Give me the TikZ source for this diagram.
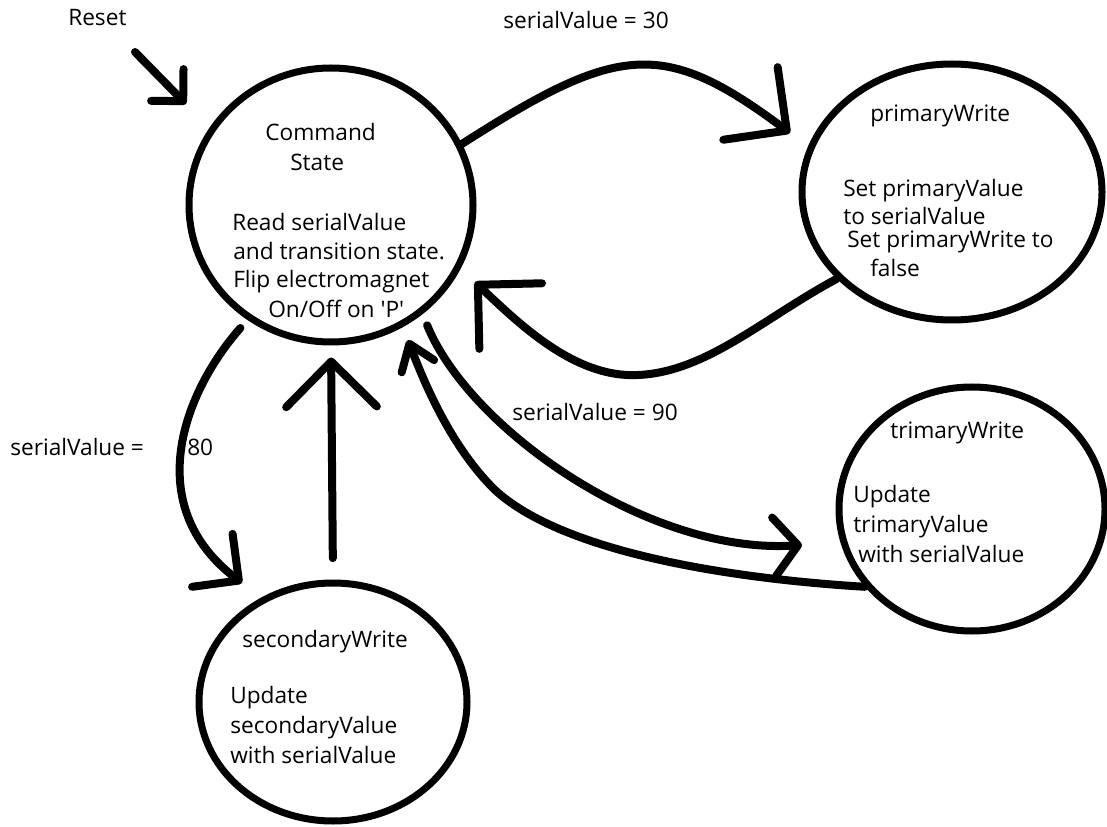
\documentclass[tikz,border=0pt]{standalone}
\usepackage{fontspec}
\setmainfont{Open Sans}
\usetikzlibrary{arrows.meta,shapes.geometric}
\begin{document}
\begin{tikzpicture}[x=0.75pt,y=-0.75pt,
  state/.style={draw, ellipse, line width=5.25pt, inner sep=0pt},
  lbl/.style={anchor=base west, inner sep=0pt, font=\fontsize{17pt}{20pt}\selectfont},
  conn/.style={line width=6pt, line cap=round, line join=round},
  tipL/.style={conn, -{Straight Barb[length=34pt,width=68pt,round]}},
  tipM/.style={conn, -{Straight Barb[length=25pt,width=50pt,round]}},
  tipN/.style={conn, -{Straight Barb[length=18pt,width=44pt,round]}},
  tipT/.style={conn, -{Straight Barb[length=18pt,width=26pt,round]}},
  tipR/.style={conn, -{Straight Barb[length=17pt,width=34pt,round]}}
]
\useasboundingbox (0,0) rectangle (1107,827);

% states
\node[state, minimum width=213pt, minimum height=205.5pt] (cmd) at (331,205) {};
\node[state, minimum width=225pt, minimum height=192pt] (pw) at (952,192) {};
\node[state, minimum width=199.5pt, minimum height=183pt] (tri) at (972,509) {};
\node[state, minimum width=201pt, minimum height=178.5pt] (sec) at (333,702) {};

% free ends
\coordinate (rsS) at (135,52);
\coordinate (rsT) at (186,104);
\coordinate (a30) at (790,133);
\coordinate (apw) at (475,282);
\coordinate (a90) at (802,545);
\coordinate (atr) at (408,340);
\coordinate (a80) at (242,583);

% connectors
\draw[tipR] (rsS) -- (rsT);
\draw[tipL] (cmd.25) .. controls (618,44) and (663,38) .. (a30);
\draw[tipL] (pw.217) .. controls (760,320) and (700,378) .. (627,375)
  .. controls (570,372) and (520,325) .. (apw);
\draw[tipN, shorten <=9pt] (cmd.-50) .. controls (470,430) and (650,555) .. (a90);
\draw[tipT] (tri.216) .. controls (720,578) and (560,550) .. (495,490)
  .. controls (452,448) and (425,385) .. (atr);
\draw[tipM, shorten <=8pt] (cmd.234) .. controls (184,392) and (140,505) .. (a80);
\draw[tipL, shorten <=16pt, shorten >=9pt] (sec.north) -- (cmd.south);

% texts
\node[lbl] (treset) at (68,26) {Reset};
\node[lbl] (t30) at (503,29) {serialValue = 30};
\node[lbl] (tc1) at (265,141) {Command};
\node[lbl] (tc2) at (290,171) {State};
\node[lbl] (tc3) at (232,231) {Read serialValue};
\node[lbl] (tc4) at (233,260) {and transition state.};
\node[lbl] (tc5) at (233,288) {Flip electromagnet};
\node[lbl] (tc6) at (268,318) {On/Off on \textquotesingle P\textquotesingle};
\node[lbl] (tp1) at (870,122) {primaryWrite};
\node[lbl] (tp2) at (843,197) {Set primaryValue};
\node[lbl] (tp3) at (843,225) {to serialValue};
\node[lbl] (tp4) at (847,248) {Set primaryWrite to};
\node[lbl] (tp5) at (870,277) {false};
\node[lbl] (t80a) at (10,455) {serialValue =};
\node[lbl] (t80b) at (187,455) {80};
\node[lbl] (t90) at (512,421) {serialValue = 90};
\node[lbl] (tt1) at (890,438) {trimaryWrite};
\node[lbl] (tt2) at (853,502) {Update};
\node[lbl] (tt3) at (853,532) {trimaryValue};
\node[lbl] (tt4) at (858,562) {with serialValue};
\node[lbl] (ts1) at (242,647) {secondaryWrite};
\node[lbl] (ts2) at (230,703) {Update};
\node[lbl] (ts3) at (230,733) {secondaryValue};
\node[lbl] (ts4) at (230,763) {with serialValue};
\end{tikzpicture}
\end{document}
